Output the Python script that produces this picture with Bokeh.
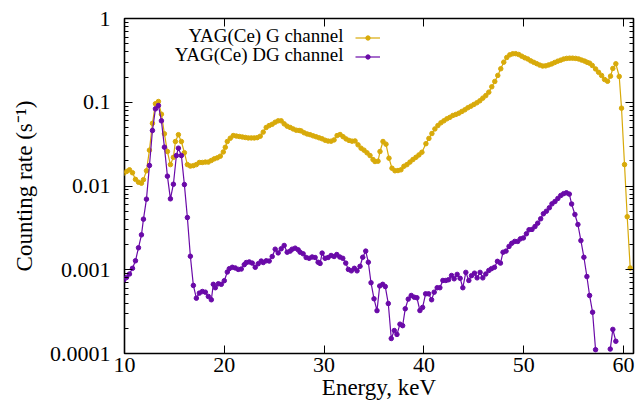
from bokeh.plotting import figure
from bokeh.models import (Range1d, FixedTicker, CustomJSTickFormatter, LinearAxis, LogAxis,
                          Legend, LegendItem, Label)
from bokeh.embed import file_html
from bokeh.resources import INLINE

nan = float("nan")

# ---- data ----
g_energy = [9.92, 10.2, 10.5, 10.8, 11.1, 11.4, 11.7, 11.9, 12.2, 12.5, 12.8, 13.1, 13.4, 13.7,
            14.0, 14.3, 14.6, 14.9, 15.1, 15.4, 15.7, 16.0, 16.3, 16.6, 16.9, 17.2, 17.5, 17.8,
            18.1, 18.4, 18.7, 19.0, 19.3, 19.6, 19.9, 20.1, 20.3, 20.6, 20.9, 21.2, 21.5, 21.8,
            22.1, 22.4, 22.7, 23.0, 23.3, 23.6, 23.9, 24.2, 24.5, 24.8, 25.1, 25.4, 25.7, 26.0,
            26.3, 26.6, 26.9, 27.2, 27.5, 27.7, 28.0, 28.3, 28.6, 28.9, 29.2, 29.5, 29.8, 30.1,
            30.4, 30.7, 31.0, 31.3, 31.6, 31.9, 32.2, 32.5, 32.8, 33.1, 33.4, 33.7, 34.0, 34.3,
            34.6, 34.9, 35.1, 35.4, 35.6, 35.9, 36.2, 36.5, 36.8, 37.1, 37.4, 37.7, 38.0, 38.3,
            38.6, 38.9, 39.2, 39.5, 39.8, 40.2, 40.5, 40.8, 41.1, 41.4, 41.7, 42.0, 42.3, 42.6,
            42.9, 43.2, 43.5, 43.8, 44.1, 44.4, 44.7, 45.0, 45.3, 45.6, 45.9, 46.2, 46.5, 46.8,
            47.1, 47.4, 47.7, 48.0, 48.3, 48.6, 48.9, 49.2, 49.5, 49.8, 50.1, 50.4, 50.7, 51.0,
            51.3, 51.6, 51.9, 52.2, 52.5, 52.8, 53.1, 53.4, 53.7, 54.0, 54.3, 54.6, 54.9, 55.2,
            55.5, 55.8, 56.1, 56.35, 56.6, 56.87, 57.2, 57.5, 57.8, 58.1, 58.4, 58.7, 58.93,
            59.23, 59.57, 59.8, 60.1, 60.37, 60.67]
g_rate = [0.0142, 0.0149, 0.0156, 0.0144, 0.0120, 0.0111, 0.0108, 0.0119, 0.0152, 0.0268, 0.0560,
          0.0960, 0.1020, 0.0720, 0.0420, 0.0258, 0.0180, 0.0220, 0.0340, 0.0410, 0.0340, 0.0250,
          0.0180, 0.0173, 0.0175, 0.0180, 0.0191, 0.0191, 0.0193, 0.0193, 0.0202, 0.0211, 0.0217,
          0.0227, 0.0255, 0.0290, 0.0340, 0.0372, 0.0400, 0.0395, 0.0390, 0.0385, 0.0380, 0.0375,
          0.0375, 0.0375, 0.0378, 0.0393, 0.0440, 0.0500, 0.0527, 0.0546, 0.0578, 0.0600, 0.0600,
          0.0552, 0.0518, 0.0500, 0.0480, 0.0464, 0.0460, 0.0455, 0.0432, 0.0418, 0.0410, 0.0397,
          0.0387, 0.0376, 0.0366, 0.0352, 0.0344, 0.0343, 0.0355, 0.0400, 0.0412, 0.0388, 0.0365,
          0.0350, 0.0343, 0.0345, 0.0310, 0.0283, 0.0268, 0.0249, 0.0231, 0.0207, 0.0196, 0.0198,
          0.0258, 0.0340, 0.0316, 0.0215, 0.0163, 0.0152, 0.0153, 0.0156, 0.0172, 0.0180, 0.0193,
          0.0207, 0.0220, 0.0235, 0.0253, 0.0320, 0.0370, 0.0423, 0.0480, 0.0527, 0.0568, 0.0600,
          0.0634, 0.0660, 0.0695, 0.0715, 0.0740, 0.0776, 0.0812, 0.0859, 0.0897, 0.0940, 0.0985,
          0.1040, 0.1120, 0.1200, 0.1320, 0.1530, 0.1770, 0.2090, 0.2510, 0.3010, 0.3420, 0.3680,
          0.3790, 0.3800, 0.3720, 0.3550, 0.3400, 0.3290, 0.3120, 0.3000, 0.2890, 0.2780, 0.2710,
          0.2720, 0.2790, 0.2870, 0.2980, 0.3090, 0.3180, 0.3280, 0.3340, 0.3360, 0.3360, 0.3340,
          0.3290, 0.3190, 0.3100, 0.3000, 0.2930, 0.2750, 0.2500, 0.2280, 0.2090, 0.1870, 0.1780,
          0.2050, 0.2530, 0.2880, 0.2030, 0.0850, 0.0180, 0.0043, 0.00105]

dg_energy = [9.92, 10.2, 10.5, 10.8, 11.1, 11.4, 11.7, 11.9, 12.2, 12.5, 12.8, 13.1, 13.4, 13.7,
             14.0, 14.3, 14.6, 14.9, 15.2, 15.4, 15.7, 16.0, 16.3, 16.6, 16.9, 17.2, 17.5, 17.8,
             18.1, 18.4, 18.7, 18.9, 19.1, 19.4, 19.7, 20.0, 20.3, 20.5, 20.8, 21.1, 21.4, 21.7,
             22.0, 22.2, 22.5, 22.8, 23.1, 23.4, 23.7, 23.9, 24.2, 24.5, 24.8, 25.1, 25.4, 25.7,
             26.0, 26.3, 26.6, 26.8, 27.1, 27.4, 27.6, 27.9, 28.2, 28.5, 28.8, 29.1, 29.4, 29.6,
             29.8, 30.1, 30.4, 30.7, 31.0, 31.27, 31.57, 31.87, 32.17, 32.43, 32.73, 33.03, 33.3,
             33.6, 33.87, 34.17, 34.43, 34.7, 35.0, 35.3, 35.57, 35.87, 36.13, 36.43, 36.73, 37.03,
             37.3, 37.6, 37.87, 38.13, 38.43, 38.73, 39.03, 39.3, 39.6, 39.87, 40.17, 40.47, 40.77,
             41.03, 41.33, 41.6, 41.9, 42.2, 42.47, 42.77, 43.03, 43.33, 43.63, 43.9, 44.2, 44.5,
             44.77, 45.07, 45.33, 45.63, 45.9, 46.2, 46.5, 46.77, 47.07, 47.37, 47.67, 47.93,
             48.23, 48.53, 48.8, 49.1, 49.4, 49.67, 49.97, 50.27, 50.53, 50.83, 51.13, 51.4, 51.7,
             51.97, 52.27, 52.57, 52.83, 53.13, 53.42, 53.71, 54.0, 54.28, 54.57, 54.8, 55.13,
             55.43, 55.73, 56.03, 56.33, 56.6, 56.9, 57.2, 57.5, 58.67, 58.93, 59.23]
dg_rate = [0.00075, 0.00081, 0.00089, 0.00104, 0.00128, 0.00183, 0.00261, 0.00402, 0.00697,
           0.0176, 0.0460, 0.0834, 0.0914, 0.0600, 0.0291, 0.0131, 0.00703, 0.0105, 0.0231,
           0.0283, 0.0231, 0.0104, 0.0042, 0.00145, 0.00065, 0.000458, 0.000526, 0.00055, 0.00054,
           0.00048, 0.000438, 0.00067, 0.00061, 0.00068, 0.00067, 0.00074, 0.00094, 0.00103,
           0.00107, 0.00105, 0.00101, 0.00102, 0.00115, 0.00122, 0.00124, 0.00120, 0.00107,
           0.00118, 0.00127, 0.00122, 0.00128, 0.00127, 0.00144, 0.00176, 0.00159, 0.00178,
           0.00195, 0.00162, 0.00167, 0.00176, 0.00181, 0.00173, 0.00162, 0.00155, 0.00140,
           0.00137, 0.00142, 0.00140, 0.00123, 0.00119, 0.00158, 0.00137, 0.00140, 0.00148,
           0.00144, 0.00152, 0.00142, 0.00137, 0.00120, 0.00101, 0.00097, 0.00104, 0.00097,
           0.00110, 0.00141, 0.00167, 0.00123, 0.00070, 0.00045, 0.000325, 0.00064, 0.00067,
           0.00063, 0.000395, 0.000151, 0.000188, 0.000169, 0.000224, 0.000215, 0.000342,
           0.000446, 0.000493, 0.00047, 0.000463, 0.000326, 0.000355, 0.000516, 0.000516,
           0.000438, 0.00054, 0.00061, 0.00061, 0.000745, 0.000745, 0.00076, 0.000853, 0.00078,
           0.00088, 0.00079, 0.00061, 0.00093, 0.000745, 0.00085, 0.00091, 0.00080, 0.00093,
           0.00080, 0.00089, 0.00098, 0.00103, 0.00107, 0.00126, 0.00120, 0.00162, 0.00167,
           0.00190, 0.00207, 0.00218, 0.00218, 0.00234, 0.00240, 0.00269, 0.00300, 0.00303,
           0.00328, 0.00360, 0.00406, 0.00466, 0.00500, 0.00550, 0.00612, 0.00653, 0.0071,
           0.0077, 0.0081, 0.0083, 0.0080, 0.0061, 0.00457, 0.00347, 0.00223, 0.00141, 0.00083,
           0.000493, 0.000311, 0.000111, nan, 0.000113, 0.000194, 0.00014]

x_ticks = [10, 20, 30, 40, 50, 60]
y_ticks = [0.0001, 0.001, 0.01, 0.1, 1]
series_names = ["YAG(Ce) G channel", "YAG(Ce) DG channel"]

# ---- styling ----
G_COLOR = "#d8aa0a"
DG_COLOR = "#6a0aa8"
FONT = "Liberation Serif"
W, HT = 635, 411
ML, MR, MT, MB = 124, 2, 18, 58

y_minor = [k * d for d in y_ticks[:-1] for k in range(2, 10)]

p = figure(width=W, height=HT, output_backend="svg", toolbar_location=None,
           x_range=Range1d(10, 61), y_range=Range1d(1e-4, 1), y_axis_type="log",
           min_border_left=ML, min_border_right=MR, min_border_top=MT, min_border_bottom=MB)
p.background_fill_color = "white"
p.border_fill_color = "white"
p.grid.visible = False
p.outline_line_color = "black"
p.outline_line_width = 1.6

xt = FixedTicker(ticks=x_ticks, minor_ticks=[])
yt = FixedTicker(ticks=y_ticks, minor_ticks=y_minor)

ax_x = p.xaxis[0]
ax_y = p.yaxis[0]
ax_x.ticker = xt
ax_y.ticker = yt
ax_y.formatter = CustomJSTickFormatter(code="return tick.toString()")

top = LinearAxis(ticker=xt, formatter=CustomJSTickFormatter(code="return ''"))
right = LogAxis(ticker=yt, formatter=CustomJSTickFormatter(code="return ''"))
p.add_layout(top, "above")
p.add_layout(right, "right")

for ax in [ax_x, ax_y, top, right]:
    ax.axis_line_color = None
    ax.major_tick_in = 8
    ax.major_tick_out = 0
    ax.minor_tick_in = 4
    ax.minor_tick_out = 0
    ax.major_tick_line_color = "black"
    ax.minor_tick_line_color = "black"
    ax.major_label_text_font = FONT
    ax.major_label_text_color = "black"
    ax.axis_label_text_font = FONT
    ax.axis_label_text_font_style = "normal"
    ax.axis_label_text_color = "black"
for ax in [top, right]:
    ax.major_label_standoff = 0
    ax.major_label_text_font_size = "0px"

ax_x.axis_label = "Energy, keV"
ax_x.major_label_text_font_size = "22px"
ax_x.axis_label_text_font_size = "23px"
ax_x.major_label_standoff = 4
ax_x.axis_label_standoff = 0

ax_y.axis_label = "Counting rate (s\u207b\u00b9)"
ax_y.major_label_text_font_size = "22px"
ax_y.axis_label_text_font_size = "23px"
ax_y.major_label_standoff = 14
ax_y.axis_label_standoff = 10

g_line = p.line(g_energy, g_rate, line_color=G_COLOR, line_width=1.2)
g_pts = p.scatter(g_energy, g_rate, marker="circle", size=4.5, fill_color=G_COLOR, line_color=G_COLOR)
dg_line = p.line(dg_energy, dg_rate, line_color=DG_COLOR, line_width=1.2)
dg_pts = p.scatter(dg_energy, dg_rate, marker="circle", size=4.5, fill_color=DG_COLOR, line_color=DG_COLOR)

H = HT - MT - MB  # frame height
legend = Legend(items=[LegendItem(label=" ", renderers=[g_line, g_pts]),
                       LegendItem(label=" ", renderers=[dg_line, dg_pts])],
                location=(231, H - 48), glyph_width=25, glyph_height=11, label_height=19,
                label_width=0, label_standoff=0, padding=0, spacing=0, margin=0,
                background_fill_alpha=0, border_line_alpha=0, label_text_font_size="8px")
p.add_layout(legend)

for i, name in enumerate(series_names):
    p.add_layout(Label(x=219, y=H - 17 - 19 * i, x_units="screen", y_units="screen", text=name,
                       text_align="right", text_baseline="middle", text_font=FONT,
                       text_font_size="19px", text_color="black"))

open("out.html", "w").write(file_html(p, INLINE))
